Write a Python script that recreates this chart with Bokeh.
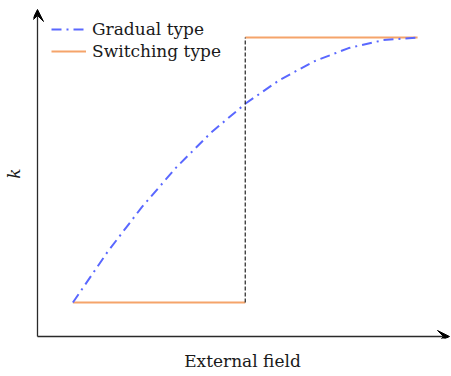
from bokeh.plotting import figure
from bokeh.models import Range1d, FixedTicker, Arrow, VeeHead, Legend, LegendItem
from bokeh.embed import file_html
from bokeh.resources import INLINE

# ---- data ----
field_gradual = [0.0, 0.1, 0.2, 0.3, 0.4, 0.5, 0.6, 0.7, 0.8, 0.9, 1.0]
k_gradual = [0.0, 0.19, 0.36, 0.51, 0.64, 0.75, 0.84, 0.91, 0.96, 0.99, 1.0]

field_switch_low = [0.0, 0.5]
k_switch_low = [0.0, 0.0]
field_switch_high = [0.5, 1.0]
k_switch_high = [1.0, 1.0]

field_step = [0.5, 0.5]
k_step = [0.0, 1.0]

legend_labels = ["Gradual type", "Switching type"]
x_label = "External field"
y_label = "k"

# ---- layout ----
X0, X1 = -0.1143, 1.0984
Y0, Y1 = -0.1358, 1.1094
AX_X = -0.1027
AX_Y = -0.1283
TIP_X = 1.0926
TIP_Y = 1.1057

FONT = "DejaVu Serif"
TXT = "#1a1a1a"

p = figure(frame_width=418, frame_height=330,
           min_border_left=25, min_border_right=0,
           min_border_top=8, min_border_bottom=30,
           x_range=Range1d(X0, X1), y_range=Range1d(Y0, Y1),
           output_backend="svg", toolbar_location=None)
p.outline_line_color = None
p.grid.visible = False
p.background_fill_color = "white"
p.border_fill_color = "white"

for ax in (p.xaxis[0], p.yaxis[0]):
    ax.ticker = FixedTicker(ticks=[])
    ax.minor_tick_line_color = None
    ax.major_tick_line_color = None
    ax.axis_line_color = None
    ax.major_label_text_font_size = "0px"
    ax.axis_label_text_font = FONT
    ax.axis_label_text_font_size = "17px"
    ax.axis_label_text_color = TXT

p.xaxis.axis_label = x_label
p.xaxis.axis_label_text_font_style = "normal"
p.xaxis.axis_label_standoff = 12
p.yaxis.axis_label = y_label
p.yaxis.axis_label_text_font_style = "italic"
p.yaxis.axis_label_standoff = 10

# axes with arrow heads
p.add_layout(Arrow(end=VeeHead(size=12, fill_color="black", line_color="black"),
                   x_start=AX_X, y_start=AX_Y, x_end=TIP_X, y_end=AX_Y,
                   line_color="#2a2a2a", line_width=1.3))
p.add_layout(Arrow(end=VeeHead(size=12, fill_color="black", line_color="black"),
                   x_start=AX_X, y_start=AX_Y, x_end=AX_X, y_end=TIP_Y,
                   line_color="#2a2a2a", line_width=1.3))

orange = "#F5A46A"
blue = "#5A68FF"

r_sw1 = p.line(field_switch_low, k_switch_low, line_color=orange, line_width=2)
r_sw2 = p.line(field_switch_high, k_switch_high, line_color=orange, line_width=2)
r_gr = p.line(field_gradual, k_gradual, line_color=blue, line_width=2,
              line_dash="10 5 2 5")
p.line(field_step, k_step, line_color="#222222", line_width=1.2, line_dash="4 2")

legend = Legend(items=[LegendItem(label=legend_labels[0], renderers=[r_gr]),
                       LegendItem(label=legend_labels[1], renderers=[r_sw1])],
                location=(18, 277))
legend.margin = 0
legend.padding = 0
legend.spacing = 2
legend.glyph_width = 35
legend.glyph_height = 20
legend.label_height = 20
legend.label_standoff = 6
legend.label_text_font = FONT
legend.label_text_font_size = "17px"
legend.label_text_color = TXT
legend.border_line_color = None
legend.background_fill_alpha = 0
p.add_layout(legend)

open("out.html", "w").write(file_html(p, INLINE))
